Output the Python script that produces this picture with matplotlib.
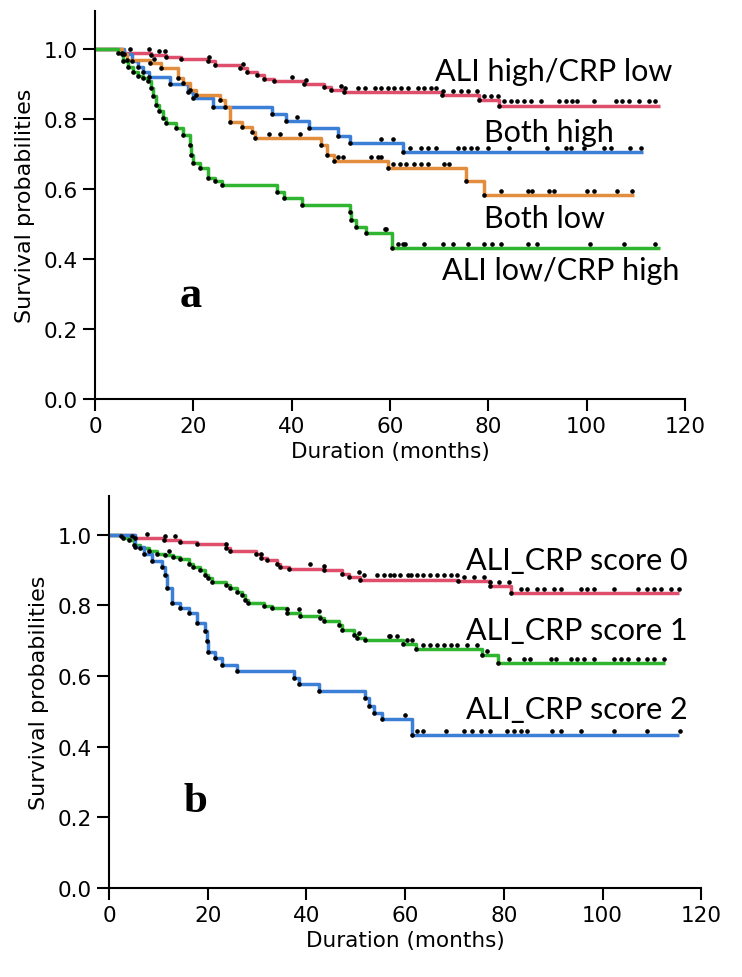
import matplotlib.pyplot as plt

# ---- panel a : four groups (event times, survival after each event, censor times)
red_t = [5.5, 11.4, 14.5, 17.6, 23.0, 24.4, 29.5, 30.9, 33.0, 34.3, 36.4, 42.5, 46.6, 48.0, 50.7, 70.6, 78.1, 82.2]
red_s = [0.99, 0.984, 0.977, 0.972, 0.965, 0.955, 0.946, 0.936, 0.927, 0.914, 0.908, 0.90, 0.893, 0.884, 0.877, 0.868, 0.855, 0.839]
red_c = [7.2, 10.9, 13.0, 14.3, 23.1, 30.2, 40.0, 43.0, 50.1, 50.8, 53.5, 54.9, 56.9, 58.2, 59.6, 60.9, 62.3, 63.6,
         65.7, 67.0, 68.4, 69.4, 70.8, 72.8, 74.5, 75.8, 77.8, 79.2, 80.6, 81.9, 83.3, 84.6, 85.9, 87.3, 88.7,
         90.7, 94.4, 95.8, 97.1, 98.1, 101.5, 105.9, 107.3, 108.6, 110.7, 112.7, 114.0]
red_end = 115

blue_t = [6.0, 7.5, 8.7, 9.8, 11.0, 15.2, 18.9, 20.0, 24.1, 36.0, 38.8, 43.6, 49.4, 51.8, 62.7]
blue_s = [0.985, 0.965, 0.95, 0.935, 0.92, 0.90, 0.879, 0.86, 0.836, 0.814, 0.795, 0.776, 0.752, 0.731, 0.706]
blue_c = [41.0, 58.2, 60.6, 64.0, 66.4, 67.7, 69.4, 73.8, 75.1, 76.5, 77.8, 79.9, 84.3, 92.0, 95.8, 96.8,
          99.5, 103.5, 104.9, 108.9, 111.0]
blue_end = 111.5

orange_t = [5.5, 6.5, 11.1, 13.5, 16.9, 17.9, 19.3, 20.6, 25.4, 26.5, 27.5, 29.9, 31.9, 32.6, 46.0, 47.3, 48.7, 59.6, 75.4, 79.1]
orange_s = [0.985, 0.97, 0.96, 0.946, 0.917, 0.903, 0.884, 0.868, 0.855, 0.836, 0.793, 0.779, 0.763, 0.746, 0.727, 0.698, 0.679, 0.661, 0.624, 0.584]
orange_c = [12.0, 35.3, 37.6, 41.7, 49.5, 50.5, 56.2, 57.6, 58.2, 60.6, 62.0, 63.3, 65.0, 66.4, 67.7, 71.1, 72.1,
            82.6, 88.0, 89.0, 92.4, 93.4, 100.1, 101.5, 106.2, 109.3]
orange_end = 109.6

green_t = [4.6, 5.6, 6.8, 7.7, 8.7, 9.7, 10.7, 11.4, 11.8, 12.4, 13.1, 13.8, 14.5, 16.5, 17.9, 19.3, 19.6, 20.0,
           21.3, 23.0, 24.4, 25.8, 37.1, 38.4, 42.2, 51.8, 52.1, 53.1, 55.2, 60.5]
green_s = [0.989, 0.965, 0.95, 0.936, 0.922, 0.917, 0.908, 0.889, 0.865, 0.841, 0.822, 0.803, 0.789, 0.774, 0.755,
           0.727, 0.698, 0.674, 0.66, 0.631, 0.622, 0.612, 0.593, 0.574, 0.555, 0.536, 0.512, 0.493, 0.474, 0.431]
green_c = [58.9, 59.3, 61.6, 62.6, 63.0, 67.0, 70.8, 72.8, 75.8, 79.2, 80.8, 82.6, 88.0, 90.0, 100.8, 107.6, 114.0]
green_end = 115

# ---- panel b : ALI_CRP score 0 / 1 / 2
s0_t = [5.3, 11.1, 14.4, 17.8, 23.6, 24.6, 29.7, 30.7, 32.0, 34.0, 34.7, 36.4, 43.5, 47.2, 48.6, 50.9, 70.8, 77.3, 81.4]
s0_s = [0.991, 0.984, 0.979, 0.973, 0.961, 0.953, 0.946, 0.934, 0.928, 0.918, 0.909, 0.904, 0.90, 0.89, 0.881, 0.873, 0.868, 0.854, 0.835]
s0_c = [7.6, 11.4, 13.4, 23.6, 30.7, 40.7, 43.5, 50.6, 51.6, 54.4, 55.7, 57.0, 57.7, 59.0, 60.5, 61.1, 62.4, 63.7,
        65.1, 66.4, 67.9, 69.2, 70.5, 71.9, 73.9, 75.9, 77.3, 79.0, 81.1, 83.4, 84.7, 86.8, 88.1, 90.1, 91.5,
        95.6, 96.9, 98.3, 102.3, 107.1, 109.1, 110.4, 111.9, 113.8, 115.5]
s0_end = 115.5

s1_t = [2.5, 2.9, 4.0, 5.0, 6.3, 8.0, 9.7, 11.4, 13.0, 14.4, 16.1, 17.1, 18.5, 19.5, 20.1, 20.8, 23.6, 24.6, 25.9,
        26.9, 27.6, 28.2, 31.3, 33.0, 36.1, 38.7, 42.8, 43.5, 46.5, 47.2, 49.6, 50.3, 51.9, 59.6, 62.3, 75.5, 78.8]
s1_s = [0.995, 0.99, 0.984, 0.97, 0.961, 0.953, 0.946, 0.942, 0.937, 0.93, 0.918, 0.909, 0.90, 0.885, 0.876, 0.865,
        0.859, 0.848, 0.838, 0.829, 0.815, 0.806, 0.799, 0.792, 0.777, 0.771, 0.763, 0.756, 0.745, 0.73, 0.716,
        0.709, 0.702, 0.691, 0.677, 0.66, 0.637]
s1_c = [4.6, 12.1, 36.1, 38.4, 42.5, 50.6, 56.7, 57.0, 58.4, 60.4, 61.4, 63.7, 65.1, 66.4, 67.9, 69.2, 70.5,
        72.5, 74.6, 76.6, 81.1, 84.1, 85.4, 89.5, 90.5, 93.6, 94.9, 96.3, 98.3, 102.3, 103.7, 105.1, 107.1,
        109.1, 110.4, 112.5]
s1_end = 112.7

s2_t = [5.3, 7.0, 8.6, 10.7, 11.4, 11.7, 12.7, 14.4, 16.1, 17.8, 19.5, 19.8, 20.1, 21.5, 22.9, 25.9, 37.4, 38.4,
        42.5, 51.9, 52.6, 53.6, 55.4, 61.4]
s2_s = [0.965, 0.944, 0.926, 0.909, 0.885, 0.848, 0.806, 0.792, 0.777, 0.749, 0.726, 0.698, 0.669, 0.651, 0.632,
        0.613, 0.594, 0.576, 0.557, 0.538, 0.515, 0.496, 0.477, 0.432]
s2_c = [60.0, 62.4, 63.7, 68.2, 71.9, 73.6, 75.3, 77.3, 80.7, 82.0, 83.4, 84.7, 89.8, 91.5, 95.6, 102.3, 109.1, 115.8]
s2_end = 115.5

x_ticks = [0, 20, 40, 60, 80, 100, 120]
y_ticks = [0.0, 0.2, 0.4, 0.6, 0.8, 1.0]

RED = '#df4f6b'
BLUE = '#3c7fd6'
ORANGE = '#e38d3f'
GREEN = '#30b530'

label_font = ['Lato', 'DejaVu Sans']
tick_font = ['DejaVu Sans']


def level_at(t, times, surv):
    s = 1.0
    for ti, si in zip(times, surv):
        if ti <= t:
            s = si
    return s


def km(ax, times, surv, cens, end, color):
    xs = [0] + list(times) + [end]
    ys = [1.0] + list(surv) + [surv[-1]]
    ax.step(xs, ys, where='post', color=color, lw=2.5, solid_capstyle='butt', zorder=2)
    ax.plot(times, surv, 'o', color='black', ms=2.3, zorder=3)
    cy = [level_at(c, times, surv) + 0.012 for c in cens]
    ax.plot(cens, cy, 'o', color='black', ms=2.3, zorder=3)


def style(ax):
    for side in ['top', 'right']:
        ax.spines[side].set_visible(False)
    for side in ['left', 'bottom']:
        ax.spines[side].set_linewidth(1.5)
    ax.set_xlim(0, 120)
    ax.set_ylim(0, 1.11)
    ax.set_xticks(x_ticks)
    ax.set_yticks(y_ticks)
    ax.set_yticklabels([f"{v:.1f}" for v in y_ticks])
    ax.tick_params(direction='out', length=8.5, width=1.5, labelsize=15.5, pad=4)
    for lab in ax.get_xticklabels() + ax.get_yticklabels():
        lab.set_family(tick_font)
    ax.set_xlabel("Duration (months)", fontsize=15.5, family=tick_font, labelpad=3)
    ax.set_ylabel("Survival probabilities", fontsize=16, family=tick_font, labelpad=6)


fig = plt.figure(figsize=(7.42, 9.78), dpi=100)
ax1 = fig.add_axes([0.128, 0.591, 0.795, 0.397])
ax2 = fig.add_axes([0.147, 0.091, 0.798, 0.401])

km(ax1, red_t, red_s, red_c, red_end, RED)
km(ax1, blue_t, blue_s, blue_c, blue_end, BLUE)
km(ax1, orange_t, orange_s, orange_c, orange_end, ORANGE)
km(ax1, green_t, green_s, green_c, green_end, GREEN)
style(ax1)
ax1.text(93.3, 0.937, "ALI high/CRP low", fontsize=22, family=label_font, ha='center', va='center')
ax1.text(92.3, 0.763, "Both high", fontsize=22, family=label_font, ha='center', va='center')
ax1.text(91.5, 0.517, "Both low", fontsize=22, family=label_font, ha='center', va='center')
ax1.text(94.8, 0.37, "ALI low/CRP high", fontsize=22, family=label_font, ha='center', va='center')
ax1.text(19.5, 0.265, "a", fontsize=32, family='Liberation Serif', weight='bold', ha='center', va='baseline')

km(ax2, s0_t, s0_s, s0_c, s0_end, RED)
km(ax2, s1_t, s1_s, s1_c, s1_end, GREEN)
km(ax2, s2_t, s2_s, s2_c, s2_end, BLUE)
style(ax2)
ax2.text(94.7, 0.927, "ALI_CRP score 0", fontsize=22, family=label_font, ha='center', va='center')
ax2.text(94.7, 0.729, "ALI_CRP score 1", fontsize=22, family=label_font, ha='center', va='center')
ax2.text(94.7, 0.507, "ALI_CRP score 2", fontsize=22, family=label_font, ha='center', va='center')
ax2.text(17.6, 0.218, "b", fontsize=31, family='Liberation Serif', weight='bold', ha='center', va='baseline')

fig.savefig("out.png", dpi=100)
